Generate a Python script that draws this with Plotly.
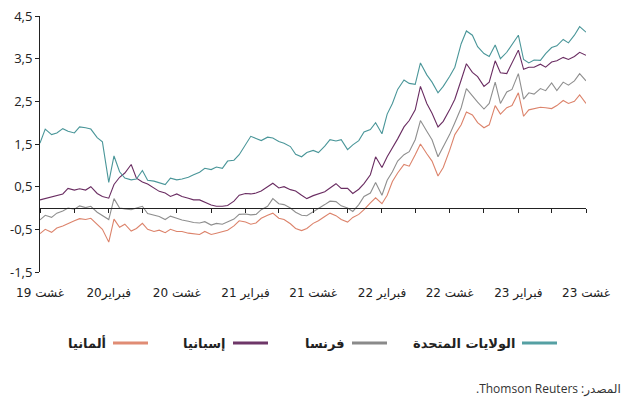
""" Bond yields chart: US, France, Spain, Germany (10y, %) """
import pandas as pd
import plotly.graph_objects as go

# semi-monthly observations, Aug 2019 -> Aug 2023
dates = pd.date_range('2019-08-01', periods=97, freq='SMS')

usa = [1.52, 1.85, 1.72, 1.76, 1.86, 1.80, 1.76, 1.90, 1.88, 1.85, 1.65, 1.55, 0.60, 1.22, 0.85, 0.70,
       0.66, 0.68, 0.88, 0.65, 0.63, 0.60, 0.55, 0.70, 0.66, 0.68, 0.72, 0.78, 0.84, 0.93, 0.90, 0.96,
       0.93, 1.10, 1.12, 1.25, 1.50, 1.68, 1.63, 1.58, 1.66, 1.64, 1.56, 1.52, 1.44, 1.26, 1.20, 1.30,
       1.35, 1.30, 1.45, 1.60, 1.57, 1.60, 1.37, 1.48, 1.58, 1.78, 1.84, 2.00, 1.74, 2.20, 2.45, 2.78,
       3.00, 2.92, 2.90, 3.40, 3.12, 2.95, 2.70, 2.85, 3.08, 3.30, 3.85, 4.15, 4.05, 3.78, 3.62, 3.55,
       3.82, 3.50, 3.65, 3.83, 4.05, 3.48, 3.40, 3.47, 3.46, 3.62, 3.76, 3.80, 3.95, 3.87, 4.05, 4.25,
       4.12]

france = [-0.28, -0.17, -0.22, -0.12, -0.07, 0.00, -0.03, 0.05, 0.01, 0.04, -0.10, -0.18, -0.27, 0.22, 0.00, -0.02,
          -0.04, 0.00, 0.04, -0.13, -0.16, -0.20, -0.27, -0.19, -0.24, -0.28, -0.31, -0.34, -0.35, -0.32, -0.40, -0.36,
          -0.38, -0.33, -0.26, -0.15, -0.14, -0.16, -0.15, -0.04, 0.04, 0.22, 0.10, 0.08, 0.00, -0.10, -0.17, -0.18,
          -0.08, -0.01, 0.08, 0.16, 0.15, 0.05, 0.00, -0.08, 0.08, 0.27, 0.35, 0.60, 0.30, 0.65, 0.85, 1.10,
          1.25, 1.32, 1.60, 2.05, 1.80, 1.60, 1.20, 1.42, 1.72, 2.00, 2.35, 2.80, 2.62, 2.48, 2.32, 2.45,
          2.95, 2.45, 2.72, 2.78, 3.15, 2.55, 2.70, 2.67, 2.80, 2.75, 2.93, 2.75, 2.95, 2.88, 2.98, 3.15,
          2.98]

spain = [0.19, 0.22, 0.26, 0.30, 0.33, 0.46, 0.42, 0.45, 0.42, 0.50, 0.34, 0.27, 0.23, 0.55, 0.72, 0.82,
         1.02, 0.70, 0.61, 0.56, 0.47, 0.39, 0.35, 0.27, 0.33, 0.27, 0.23, 0.19, 0.19, 0.14, 0.07, 0.04,
         0.04, 0.06, 0.16, 0.30, 0.34, 0.33, 0.35, 0.40, 0.50, 0.58, 0.47, 0.50, 0.43, 0.40, 0.30, 0.22,
         0.29, 0.33, 0.38, 0.47, 0.57, 0.46, 0.46, 0.34, 0.44, 0.57, 0.78, 1.20, 0.95, 1.20, 1.40, 1.62,
         1.90, 2.05, 2.30, 2.85, 2.45, 2.22, 1.90, 2.03, 2.30, 2.55, 3.00, 3.38, 3.18, 3.08, 2.85, 2.95,
         3.45, 3.17, 3.15, 3.40, 3.70, 3.25, 3.30, 3.30, 3.37, 3.30, 3.42, 3.45, 3.53, 3.48, 3.55, 3.65,
         3.58]

germany = [-0.60, -0.50, -0.57, -0.47, -0.42, -0.36, -0.30, -0.25, -0.27, -0.24, -0.38, -0.50, -0.80, -0.26, -0.45, -0.38,
           -0.54, -0.48, -0.36, -0.50, -0.55, -0.52, -0.58, -0.50, -0.55, -0.55, -0.59, -0.61, -0.62, -0.55, -0.62, -0.59,
           -0.55, -0.52, -0.42, -0.30, -0.33, -0.38, -0.35, -0.24, -0.17, -0.12, -0.24, -0.27, -0.37, -0.48, -0.53, -0.48,
           -0.36, -0.30, -0.20, -0.12, -0.18, -0.27, -0.33, -0.22, -0.15, -0.04, 0.12, 0.24, 0.10, 0.30, 0.62, 0.82,
           1.02, 0.98, 1.25, 1.50, 1.27, 1.10, 0.75, 0.95, 1.35, 1.72, 1.95, 2.25, 2.18, 2.00, 1.88, 1.95,
           2.40, 2.20, 2.35, 2.40, 2.70, 2.15, 2.30, 2.33, 2.36, 2.35, 2.33, 2.40, 2.52, 2.45, 2.50, 2.65,
           2.45]

names = ['الولايات المتحدة', 'فرنسا', 'إسبانيا', 'ألمانيا']
colors = ['#4a9699', '#8f8f8f', '#6a2d62', '#dc836b']
legend_colors = ['#55a0a3', '#8a8a8a', '#6e3768', '#e08c74']

y_ticks = [-1.5, -0.5, 0.5, 1.5, 2.5, 3.5, 4.5]
y_ticktext = ['-1,5', '-0,5', '0,5', '1,5', '2,5', '3,5', '4,5']

x_label_dates = ['2019-08-01', '2020-02-01', '2020-08-01', '2021-02-01', '2021-08-01',
                 '2022-02-01', '2022-08-01', '2023-02-01', '2023-08-01']
x_label_text = ['19 غشت', '20فبراير', '20 غشت', '21 فبراير', '21 غشت',
                '22 فبراير', '22 غشت', '23 فبراير', '23 غشت']

# written in display order (right-to-left source line)
source = '.Thomson Reuters :المصدر'

FONT = 'Open Sans, DejaVu Sans, sans-serif'
AR_FONT = 'DejaVu Sans, sans-serif'

fig = go.Figure()
# draw order: germany, france, spain on x (zero-line axis), usa on x2 (label axis) on top
for vals, name, col, ax in [(germany, names[3], colors[3], 'x'), (france, names[1], colors[1], 'x'),
                            (spain, names[2], colors[2], 'x'), (usa, names[0], colors[0], 'x2')]:
    fig.add_scatter(x=dates, y=vals, name=name, mode='lines', xaxis=ax,
                    line=dict(color=col, width=1.1), showlegend=False)

x_range = ['2019-08-01', '2023-08-01']

fig.update_layout(
    width=629, height=401,
    margin=dict(l=40, r=43, t=16, b=129),
    paper_bgcolor='white', plot_bgcolor='white',
    font=dict(family=FONT, size=12, color='#222'),
    xaxis=dict(type='date', range=x_range, anchor='free', position=0.25, automargin=False,
               showline=True, linecolor='#222', linewidth=1.3,
               ticks='outside', ticklen=4, tickcolor='#222', tickwidth=1,
               tick0='2019-08-01', dtick='M3', showticklabels=False,
               showgrid=False, zeroline=False),
    xaxis2=dict(type='date', range=x_range, overlaying='x', anchor='y', side='bottom', automargin=False,
                showline=False, ticks='', tickmode='array', tickvals=x_label_dates,
                ticktext=x_label_text, ticklabelstandoff=12,
                tickfont=dict(family=AR_FONT, size=12, color='#222'),
                showgrid=False, zeroline=False),
    yaxis=dict(range=[-1.5, 4.5], tickmode='array', tickvals=y_ticks, ticktext=y_ticktext,
               automargin=False, showline=True, linecolor='#222', linewidth=1,
               ticks='outside', ticklen=4, tickcolor='#222',
               showgrid=False, zeroline=False,
               tickfont=dict(family=FONT, size=13, color='#222')),
)

# manual right-to-left legend: line on the right of each label
def px_x(px):
    return (px - 40) / 546


def px_y(py):
    return (272 - py) / 256


legend_line_left = [522, 352, 233, 113]
legend_y = 343
for name, col, lx in zip(names, legend_colors, legend_line_left):
    fig.add_shape(type='line', xref='paper', yref='paper',
                  x0=px_x(lx), x1=px_x(lx + 35), y0=px_y(legend_y), y1=px_y(legend_y),
                  line=dict(color=col, width=3))
    fig.add_annotation(xref='paper', yref='paper', x=px_x(lx - 5), y=px_y(legend_y),
                       xanchor='right', yanchor='middle', showarrow=False, text='<b>%s</b>' % name,
                       font=dict(family=AR_FONT, size=13, color='#222'))

fig.add_annotation(xref='paper', yref='paper', x=px_x(623), y=px_y(388),
                   xanchor='right', yanchor='middle', showarrow=False, text=source,
                   font=dict(family=FONT, size=12, color='#333'))

# page body has a default 8px margin; drop it so the figure sits at the window corner
fig.write_html("out.html", config={'displayModeBar': False},
               post_script="document.body.style.margin='0';")
